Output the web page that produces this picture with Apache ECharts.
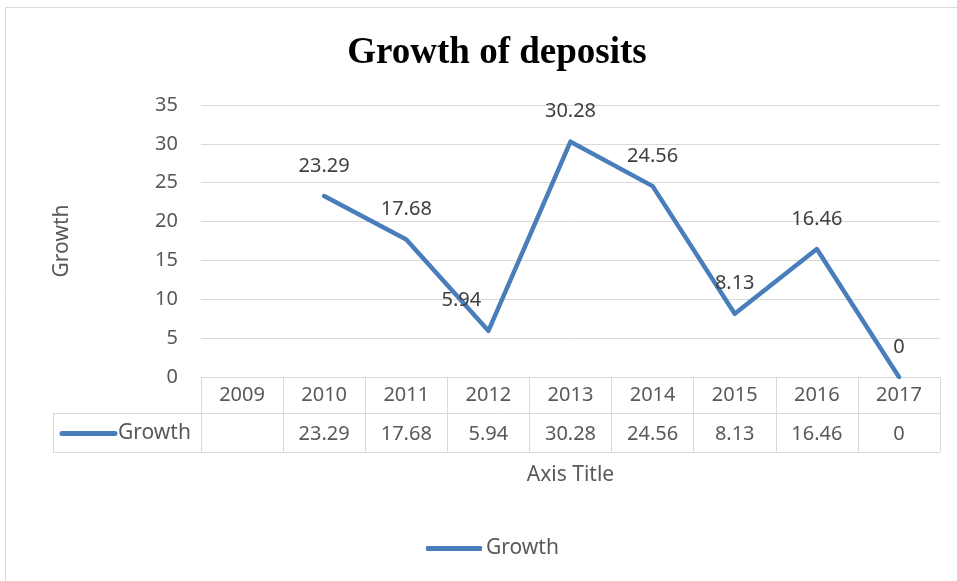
<!DOCTYPE html>
<html>
<head>
<meta charset="utf-8">
<script src="https://cdn.jsdelivr.net/npm/echarts@6/dist/echarts.min.js"></script>
<style>html,body{margin:0;padding:0;background:#fff}#c{width:957px;height:581px}</style>
</head>
<body>
<div id="c"></div>
<script>
var categories = ['2009','2010','2011','2012','2013','2014','2015','2016','2017'];
var growth = [null, 23.29, 17.68, 5.94, 30.28, 24.56, 8.13, 16.46, 0];
var seriesName = 'Growth';
var titleText = 'Growth of deposits';
var xAxisTitle = 'Axis Title';
var yAxisTitle = 'Growth';

var FONT = '"Noto Sans", "Open Sans", sans-serif';
var GL = 201, GR = 17, GT = 105, GB = 204;
var W = 957, H = 581;
var axisY = H - GB;           // 377
var row1 = axisY + 36;        // 413
var row2 = axisY + 75;        // 452
var LINE = '#4a7ebb', GRIDC = '#d9d9d9', TXT = '#595959';

var labelOffsets = {3: [-27, 0]};
var seriesData = growth.map(function (v, i) {
  var d = {value: v};
  if (labelOffsets[i]) d.label = {offset: labelOffsets[i]};
  return d;
});

var chart = echarts.init(document.getElementById('c'), null, {renderer: 'canvas'});
chart.setOption({
  animation: false,
  backgroundColor: '#fff',
  title: {
    text: titleText, left: 492, textAlign: 'center', top: 30,
    textStyle: {fontFamily: '"Liberation Serif", "Times New Roman", serif', fontWeight: 'bold', fontSize: 37, color: '#000'}
  },
  legend: {
    top: 533, left: 421,
    icon: 'roundRect', itemWidth: 56, itemHeight: 5, itemGap: 10,
    textStyle: {fontFamily: FONT, fontSize: 21, color: TXT, padding: [0, 0, 0, -1]},
    data: [seriesName]
  },
  grid: {left: GL, right: GR, top: GT, bottom: GB, containLabel: false},
  xAxis: {
    type: 'category', data: categories, boundaryGap: true,
    name: xAxisTitle, nameLocation: 'middle', nameGap: 88,
    nameTextStyle: {fontFamily: FONT, fontSize: 21, color: TXT},
    axisLine: {show: true, lineStyle: {color: GRIDC, width: 1}},
    axisTick: {show: true, length: 75, lineStyle: {color: GRIDC, width: 1}},
    axisLabel: {
      interval: 0, margin: 0,
      formatter: function (val, idx) {
        var v = growth[idx];
        return '{y|' + val + '}\n{v|' + (v === null ? ' ' : v) + '}';
      },
      rich: {
        y: {fontFamily: FONT, fontSize: 20, color: TXT, lineHeight: 37, height: 37},
        v: {fontFamily: FONT, fontSize: 20, color: TXT, lineHeight: 41, height: 41}
      }
    }
  },
  yAxis: {
    type: 'value', min: 0, max: 35, interval: 5,
    name: yAxisTitle, nameLocation: 'middle', nameRotate: 90, nameGap: 128,
    nameTextStyle: {fontFamily: FONT, fontSize: 21, color: TXT},
    axisLine: {show: false}, axisTick: {show: false},
    axisLabel: {fontFamily: FONT, fontSize: 20, color: TXT, margin: 23},
    splitLine: {lineStyle: {color: GRIDC, width: 1}}
  },
  series: [{
    name: seriesName, type: 'line', data: seriesData,
    symbol: 'circle', symbolSize: 0.1, showSymbol: true,
    lineStyle: {color: LINE, width: 4.5, cap: 'round', join: 'round'},
    itemStyle: {color: LINE},
    label: {show: true, position: 'top', distance: 20, fontFamily: FONT, fontSize: 20, color: '#404040'}
  }],
  graphic: [
    {type: 'rect', silent: true, shape: {x: 5.5, y: 7.5, width: 1000, height: 1000},
     style: {fill: null, stroke: GRIDC, lineWidth: 1}},
    {type: 'line', silent: true, shape: {x1: 53, y1: row1 + 0.5, x2: W - GR, y2: row1 + 0.5},
     style: {stroke: GRIDC, lineWidth: 1}},
    {type: 'line', silent: true, shape: {x1: 53, y1: row2 + 0.5, x2: W - GR, y2: row2 + 0.5},
     style: {stroke: GRIDC, lineWidth: 1}},
    {type: 'line', silent: true, shape: {x1: 53.5, y1: row1, x2: 53.5, y2: row2},
     style: {stroke: GRIDC, lineWidth: 1}},
    {type: 'line', silent: true, shape: {x1: 62, y1: (row1 + row2) / 2 + 1, x2: 115, y2: (row1 + row2) / 2 + 1},
     style: {stroke: LINE, lineWidth: 5, lineCap: 'round'}},
    {type: 'text', silent: true, x: 118, y: (row1 + row2) / 2 + 1,
     style: {text: seriesName, fontFamily: FONT, fontSize: 21, fill: TXT, verticalAlign: 'middle', align: 'left'}}
  ]
});
</script>
</body>
</html>
